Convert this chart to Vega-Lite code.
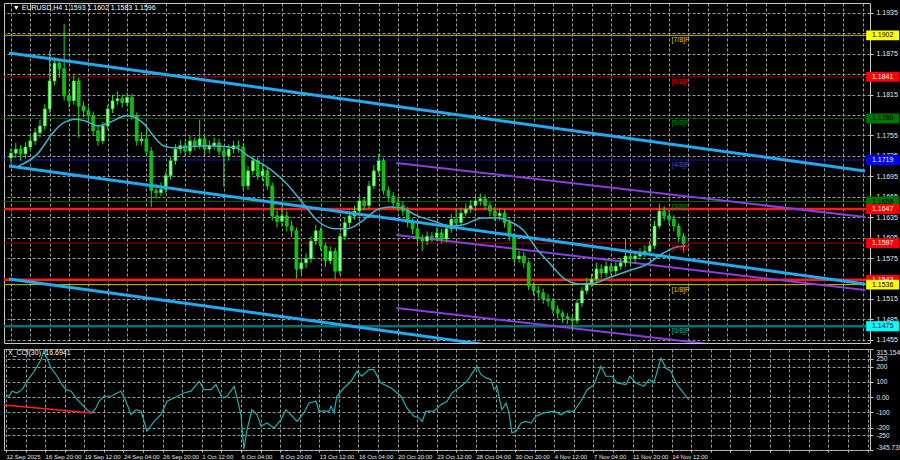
{
"$schema":"https://vega.github.io/schema/vega-lite/v6.json",
"background":"#000000",
"padding":{"left":0,"top":2,"right":0,"bottom":0},
"spacing":4,
"datasets":{
"candles":[
{"i":0,"o":1.1722,"h":1.1736,"l":1.1714,"c":1.1729},
{"i":2,"o":1.1729,"h":1.1744,"l":1.1722,"c":1.1735},
{"i":4,"o":1.1735,"h":1.1741,"l":1.1718,"c":1.1728},
{"i":6,"o":1.1728,"h":1.1745,"l":1.1721,"c":1.1738},
{"i":8,"o":1.1738,"h":1.1755,"l":1.1732,"c":1.1747},
{"i":10,"o":1.1747,"h":1.1766,"l":1.1741,"c":1.1759},
{"i":12,"o":1.1759,"h":1.1778,"l":1.1752,"c":1.1769},
{"i":14,"o":1.1769,"h":1.1801,"l":1.1763,"c":1.1794},
{"i":16,"o":1.1794,"h":1.1879,"l":1.1788,"c":1.1835},
{"i":18,"o":1.1835,"h":1.1870,"l":1.1829,"c":1.1861},
{"i":20,"o":1.1861,"h":1.1866,"l":1.1840,"c":1.1853},
{"i":22,"o":1.1853,"h":1.1919,"l":1.1806,"c":1.1813},
{"i":24,"o":1.1813,"h":1.1822,"l":1.1796,"c":1.1806},
{"i":26,"o":1.1806,"h":1.1843,"l":1.1800,"c":1.1835},
{"i":28,"o":1.1835,"h":1.1840,"l":1.1752,"c":1.1798},
{"i":30,"o":1.1798,"h":1.1805,"l":1.1782,"c":1.1791},
{"i":32,"o":1.1791,"h":1.1797,"l":1.1775,"c":1.1784},
{"i":34,"o":1.1784,"h":1.1790,"l":1.1754,"c":1.1762},
{"i":36,"o":1.1762,"h":1.1770,"l":1.1740,"c":1.1747},
{"i":38,"o":1.1747,"h":1.1775,"l":1.1742,"c":1.1769},
{"i":40,"o":1.1769,"h":1.1800,"l":1.1763,"c":1.1794},
{"i":42,"o":1.1794,"h":1.1815,"l":1.1788,"c":1.1806},
{"i":44,"o":1.1806,"h":1.1820,"l":1.1800,"c":1.1809},
{"i":46,"o":1.1809,"h":1.1815,"l":1.1796,"c":1.1803},
{"i":48,"o":1.1803,"h":1.1818,"l":1.1798,"c":1.1811},
{"i":50,"o":1.1811,"h":1.1816,"l":1.1778,"c":1.1784},
{"i":52,"o":1.1784,"h":1.1789,"l":1.1740,"c":1.1747},
{"i":54,"o":1.1747,"h":1.1760,"l":1.1741,"c":1.1750},
{"i":56,"o":1.1750,"h":1.1764,"l":1.1726,"c":1.1732},
{"i":58,"o":1.1732,"h":1.1738,"l":1.1650,"c":1.1674},
{"i":60,"o":1.1674,"h":1.1684,"l":1.1662,"c":1.1671},
{"i":62,"o":1.1671,"h":1.1686,"l":1.1666,"c":1.1676},
{"i":64,"o":1.1676,"h":1.1702,"l":1.1670,"c":1.1696},
{"i":66,"o":1.1696,"h":1.1724,"l":1.1690,"c":1.1718},
{"i":68,"o":1.1718,"h":1.1742,"l":1.1712,"c":1.1735},
{"i":70,"o":1.1735,"h":1.1748,"l":1.1728,"c":1.1740},
{"i":72,"o":1.1740,"h":1.1746,"l":1.1725,"c":1.1732},
{"i":74,"o":1.1732,"h":1.1754,"l":1.1726,"c":1.1747},
{"i":76,"o":1.1747,"h":1.1752,"l":1.1733,"c":1.1740},
{"i":78,"o":1.1740,"h":1.1778,"l":1.1735,"c":1.1750},
{"i":80,"o":1.1750,"h":1.1756,"l":1.1728,"c":1.1735},
{"i":82,"o":1.1735,"h":1.1748,"l":1.1729,"c":1.1740},
{"i":84,"o":1.1740,"h":1.1752,"l":1.1734,"c":1.1744},
{"i":86,"o":1.1744,"h":1.1750,"l":1.1726,"c":1.1732},
{"i":88,"o":1.1732,"h":1.1738,"l":1.1680,"c":1.1725},
{"i":90,"o":1.1725,"h":1.1742,"l":1.1718,"c":1.1735},
{"i":92,"o":1.1735,"h":1.1747,"l":1.1729,"c":1.1740},
{"i":94,"o":1.1740,"h":1.1748,"l":1.1730,"c":1.1738},
{"i":96,"o":1.1738,"h":1.1744,"l":1.1674,"c":1.1681},
{"i":98,"o":1.1681,"h":1.1710,"l":1.1675,"c":1.1703},
{"i":100,"o":1.1703,"h":1.1725,"l":1.1697,"c":1.1718},
{"i":102,"o":1.1718,"h":1.1723,"l":1.1690,"c":1.1696},
{"i":104,"o":1.1696,"h":1.1712,"l":1.1688,"c":1.1703},
{"i":106,"o":1.1703,"h":1.1708,"l":1.1675,"c":1.1681},
{"i":108,"o":1.1681,"h":1.1686,"l":1.1630,"c":1.1637},
{"i":110,"o":1.1637,"h":1.1645,"l":1.1620,"c":1.1629},
{"i":112,"o":1.1629,"h":1.1652,"l":1.1622,"c":1.1637},
{"i":114,"o":1.1637,"h":1.1644,"l":1.1614,"c":1.1622},
{"i":116,"o":1.1622,"h":1.1630,"l":1.1606,"c":1.1615},
{"i":118,"o":1.1615,"h":1.1620,"l":1.1545,"c":1.1559},
{"i":120,"o":1.1559,"h":1.1576,"l":1.1552,"c":1.1568},
{"i":122,"o":1.1568,"h":1.1582,"l":1.1560,"c":1.1574},
{"i":124,"o":1.1574,"h":1.1607,"l":1.1568,"c":1.1600},
{"i":126,"o":1.1600,"h":1.1624,"l":1.1594,"c":1.1615},
{"i":128,"o":1.1615,"h":1.1620,"l":1.1586,"c":1.1593},
{"i":130,"o":1.1593,"h":1.1598,"l":1.1562,"c":1.1571},
{"i":132,"o":1.1571,"h":1.1592,"l":1.1566,"c":1.1585},
{"i":134,"o":1.1585,"h":1.1590,"l":1.1544,"c":1.1556},
{"i":136,"o":1.1556,"h":1.1612,"l":1.1550,"c":1.1607},
{"i":138,"o":1.1607,"h":1.1634,"l":1.1601,"c":1.1627},
{"i":140,"o":1.1627,"h":1.1644,"l":1.1620,"c":1.1637},
{"i":142,"o":1.1637,"h":1.1652,"l":1.1631,"c":1.1644},
{"i":144,"o":1.1644,"h":1.1666,"l":1.1638,"c":1.1659},
{"i":146,"o":1.1659,"h":1.1664,"l":1.1645,"c":1.1652},
{"i":148,"o":1.1652,"h":1.1688,"l":1.1647,"c":1.1681},
{"i":150,"o":1.1681,"h":1.1712,"l":1.1676,"c":1.1703},
{"i":152,"o":1.1703,"h":1.1728,"l":1.1698,"c":1.1718},
{"i":154,"o":1.1718,"h":1.1722,"l":1.1668,"c":1.1674},
{"i":156,"o":1.1674,"h":1.1680,"l":1.1658,"c":1.1666},
{"i":158,"o":1.1666,"h":1.1672,"l":1.1648,"c":1.1656},
{"i":160,"o":1.1656,"h":1.1663,"l":1.1644,"c":1.1652},
{"i":162,"o":1.1652,"h":1.1658,"l":1.1637,"c":1.1644},
{"i":164,"o":1.1644,"h":1.1650,"l":1.1620,"c":1.1627},
{"i":166,"o":1.1627,"h":1.1633,"l":1.1610,"c":1.1618},
{"i":168,"o":1.1618,"h":1.1624,"l":1.1596,"c":1.1603},
{"i":170,"o":1.1603,"h":1.1610,"l":1.1585,"c":1.1600},
{"i":172,"o":1.1600,"h":1.1614,"l":1.1594,"c":1.1607},
{"i":174,"o":1.1607,"h":1.1613,"l":1.1598,"c":1.1605},
{"i":176,"o":1.1605,"h":1.1620,"l":1.1600,"c":1.1612},
{"i":178,"o":1.1612,"h":1.1618,"l":1.1597,"c":1.1603},
{"i":180,"o":1.1603,"h":1.1625,"l":1.1598,"c":1.1618},
{"i":182,"o":1.1618,"h":1.1640,"l":1.1612,"c":1.1632},
{"i":184,"o":1.1632,"h":1.1648,"l":1.1620,"c":1.1627},
{"i":186,"o":1.1627,"h":1.1649,"l":1.1622,"c":1.1641},
{"i":188,"o":1.1641,"h":1.1655,"l":1.1636,"c":1.1647},
{"i":190,"o":1.1647,"h":1.1660,"l":1.1642,"c":1.1652},
{"i":192,"o":1.1652,"h":1.1668,"l":1.1646,"c":1.1659},
{"i":194,"o":1.1659,"h":1.1670,"l":1.1652,"c":1.1662},
{"i":196,"o":1.1662,"h":1.1668,"l":1.1646,"c":1.1652},
{"i":198,"o":1.1652,"h":1.1657,"l":1.1636,"c":1.1644},
{"i":200,"o":1.1644,"h":1.1650,"l":1.1630,"c":1.1637},
{"i":202,"o":1.1637,"h":1.1648,"l":1.1630,"c":1.1641},
{"i":204,"o":1.1641,"h":1.1646,"l":1.1620,"c":1.1627},
{"i":206,"o":1.1627,"h":1.1632,"l":1.1600,"c":1.1607},
{"i":208,"o":1.1607,"h":1.1612,"l":1.1567,"c":1.1574},
{"i":210,"o":1.1574,"h":1.1586,"l":1.1568,"c":1.1578},
{"i":212,"o":1.1578,"h":1.1584,"l":1.1560,"c":1.1568},
{"i":214,"o":1.1568,"h":1.1572,"l":1.1528,"c":1.1534},
{"i":216,"o":1.1534,"h":1.1540,"l":1.1520,"c":1.1527},
{"i":218,"o":1.1527,"h":1.1534,"l":1.1516,"c":1.1524},
{"i":220,"o":1.1524,"h":1.1530,"l":1.1508,"c":1.1515},
{"i":222,"o":1.1515,"h":1.1522,"l":1.1504,"c":1.1512},
{"i":224,"o":1.1512,"h":1.1516,"l":1.1493,"c":1.1500},
{"i":226,"o":1.1500,"h":1.1506,"l":1.1486,"c":1.1494},
{"i":228,"o":1.1494,"h":1.1498,"l":1.1480,"c":1.1489},
{"i":230,"o":1.1489,"h":1.1494,"l":1.1478,"c":1.1486},
{"i":232,"o":1.1486,"h":1.1492,"l":1.1472,"c":1.1483},
{"i":234,"o":1.1483,"h":1.1514,"l":1.1478,"c":1.1509},
{"i":236,"o":1.1509,"h":1.1533,"l":1.1503,"c":1.1527},
{"i":238,"o":1.1527,"h":1.1546,"l":1.1522,"c":1.1538},
{"i":240,"o":1.1538,"h":1.1552,"l":1.1533,"c":1.1544},
{"i":242,"o":1.1544,"h":1.1568,"l":1.1538,"c":1.1559},
{"i":244,"o":1.1559,"h":1.1566,"l":1.1546,"c":1.1553},
{"i":246,"o":1.1553,"h":1.1570,"l":1.1547,"c":1.1563},
{"i":248,"o":1.1563,"h":1.1568,"l":1.1550,"c":1.1556},
{"i":250,"o":1.1556,"h":1.1569,"l":1.1550,"c":1.1563},
{"i":252,"o":1.1563,"h":1.1575,"l":1.1558,"c":1.1568},
{"i":254,"o":1.1568,"h":1.1604,"l":1.1562,"c":1.1578},
{"i":256,"o":1.1578,"h":1.1586,"l":1.1566,"c":1.1574},
{"i":258,"o":1.1574,"h":1.1585,"l":1.1568,"c":1.1578},
{"i":260,"o":1.1578,"h":1.1590,"l":1.1573,"c":1.1583},
{"i":262,"o":1.1583,"h":1.1594,"l":1.1576,"c":1.1585},
{"i":264,"o":1.1585,"h":1.1600,"l":1.1578,"c":1.1593},
{"i":266,"o":1.1593,"h":1.1630,"l":1.1588,"c":1.1622},
{"i":268,"o":1.1622,"h":1.1655,"l":1.1618,"c":1.1644},
{"i":270,"o":1.1644,"h":1.1651,"l":1.1630,"c":1.1637},
{"i":272,"o":1.1637,"h":1.1645,"l":1.1625,"c":1.1632},
{"i":274,"o":1.1632,"h":1.1638,"l":1.1614,"c":1.1622},
{"i":276,"o":1.1622,"h":1.1626,"l":1.1599,"c":1.1607},
{"i":278,"o":1.1607,"h":1.1612,"l":1.1583,"c":1.1596}
],
"ma":[
{"i":3,"m":1.1710},{"i":11,"m":1.1728},{"i":17,"m":1.1757},{"i":21,"m":1.1772},{"i":27,"m":1.1779},{"i":31,"m":1.1776},{"i":36,"m":1.1769},{"i":40,"m":1.1773},{"i":48,"m":1.1784},{"i":55,"m":1.1772},{"i":59,"m":1.1754},{"i":63,"m":1.1740},{"i":67,"m":1.1737},{"i":81,"m":1.1740},{"i":93,"m":1.1737},{"i":98,"m":1.1725},{"i":107,"m":1.1706},{"i":114,"m":1.1684},{"i":121,"m":1.1654},{"i":127,"m":1.1629},{"i":134,"m":1.1618},{"i":139,"m":1.1618},{"i":145,"m":1.1629},{"i":152,"m":1.1647},{"i":157,"m":1.1650},{"i":161,"m":1.1649},{"i":168,"m":1.1637},{"i":175,"m":1.1629},{"i":182,"m":1.1622},{"i":187,"m":1.1624},{"i":195,"m":1.1634},{"i":201,"m":1.1634},{"i":206,"m":1.1629},{"i":212,"m":1.1615},{"i":217,"m":1.1590},{"i":223,"m":1.1566},{"i":229,"m":1.1544},{"i":235,"m":1.1537},{"i":241,"m":1.1538},{"i":247,"m":1.1546},{"i":255,"m":1.1556},{"i":263,"m":1.1566},{"i":269,"m":1.1581},{"i":274,"m":1.1590},{"i":279,"m":1.1593}
],
"levels":[
{"lvl":"7/8","p":1.1902,"lab":"[7/8]P"},
{"lvl":"6/8","p":1.1841,"lab":"[6/8]P"},
{"lvl":"5/8","p":1.1780,"lab":"[5/8]P"},
{"lvl":"4/8","p":1.1719,"lab":"[4/8]P"},
{"lvl":"3/8","p":1.1658,"lab":"[3/8]P"},
{"lvl":"R1","p":1.1647,"lab":""},
{"lvl":"2/8","p":1.1597,"lab":"[2/8]P"},
{"lvl":"R2","p":1.1543,"lab":""},
{"lvl":"1/8","p":1.1536,"lab":"[1/8]P"},
{"lvl":"0/8","p":1.1475,"lab":"[0/8]P"}
],
"chan":[
{"ln":"a","i":-0.8,"p":1.18761},{"ln":"a","i":353,"p":1.17028},
{"ln":"b","i":-0.8,"p":1.17102},{"ln":"b","i":353,"p":1.15369},
{"ln":"c","i":-0.8,"p":1.15443},{"ln":"c","i":353,"p":1.13710}
],
"purp":[
{"ln":"d","i":159.3,"p":1.17146},{"ln":"d","i":353,"p":1.16353},
{"ln":"e","i":159.3,"p":1.16089},{"ln":"e","i":353,"p":1.15281},
{"ln":"f","i":159.3,"p":1.15017},{"ln":"f","i":353,"p":1.14224}
],
"cci":[
{"i":0,"v":16},{"i":1.2,"v":6},{"i":2.5,"v":39},{"i":4.5,"v":27},{"i":6.6,"v":49},{"i":8.6,"v":104},{"i":11.5,"v":169},{"i":14.3,"v":245},{"i":15.5,"v":305},{"i":16.4,"v":268},{"i":18.4,"v":191},{"i":20.9,"v":137},{"i":22.9,"v":82},{"i":24.5,"v":49},{"i":26.6,"v":39},{"i":28.6,"v":-5},{"i":31.1,"v":-49},{"i":33.1,"v":-82},{"i":35.1,"v":-103},{"i":36.8,"v":-71},{"i":38,"v":-27},{"i":40,"v":6},{"i":42.9,"v":6},{"i":45.4,"v":27},{"i":47,"v":39},{"i":49,"v":-27},{"i":51.1,"v":-115},{"i":53.1,"v":-82},{"i":55.2,"v":-92},{"i":57.6,"v":-223},{"i":60.5,"v":-158},{"i":63.3,"v":-115},{"i":65.8,"v":-27},{"i":68.6,"v":-5},{"i":72.7,"v":27},{"i":75.6,"v":39},{"i":78.9,"v":104},{"i":80.9,"v":49},{"i":83.8,"v":49},{"i":85.8,"v":82},{"i":88.3,"v":-5},{"i":90.3,"v":6},{"i":93.2,"v":71},{"i":94.4,"v":-5},{"i":96,"v":-115},{"i":97.2,"v":-340},{"i":98.5,"v":-213},{"i":100.5,"v":-82},{"i":102.6,"v":-115},{"i":104.2,"v":-190},{"i":106.6,"v":-169},{"i":109.5,"v":-202},{"i":112.4,"v":-147},{"i":114.4,"v":-82},{"i":116.4,"v":-115},{"i":118.9,"v":-158},{"i":121.7,"v":-103},{"i":123.8,"v":-38},{"i":126.7,"v":-27},{"i":127.9,"v":-92},{"i":132,"v":-92},{"i":132.8,"v":-60},{"i":134,"v":-103},{"i":135.2,"v":6},{"i":138.1,"v":60},{"i":141,"v":104},{"i":143.4,"v":169},{"i":145.4,"v":137},{"i":148.3,"v":180},{"i":150.3,"v":180},{"i":153.2,"v":93},{"i":157.3,"v":60},{"i":161.4,"v":6},{"i":163.8,"v":-71},{"i":166.7,"v":-125},{"i":168.7,"v":-136},{"i":170,"v":-158},{"i":171.6,"v":-92},{"i":174.9,"v":-92},{"i":177.7,"v":-49},{"i":180.2,"v":-27},{"i":182.2,"v":27},{"i":185.9,"v":71},{"i":188.3,"v":104},{"i":192.4,"v":202},{"i":194.1,"v":147},{"i":196.1,"v":126},{"i":198.1,"v":115},{"i":199.4,"v":49},{"i":200.6,"v":71},{"i":201.4,"v":6},{"i":202.6,"v":-82},{"i":204.3,"v":-38},{"i":205.5,"v":-103},{"i":206.7,"v":-234},{"i":208.4,"v":-223},{"i":210.4,"v":-169},{"i":212.4,"v":-158},{"i":214.5,"v":-169},{"i":216.5,"v":-125},{"i":219.8,"v":-103},{"i":223.9,"v":-92},{"i":226.7,"v":-115},{"i":229.2,"v":-92},{"i":232,"v":-92},{"i":234.9,"v":-27},{"i":237.4,"v":49},{"i":240.2,"v":82},{"i":243.1,"v":202},{"i":245.1,"v":137},{"i":247.6,"v":137},{"i":249.6,"v":93},{"i":253.3,"v":82},{"i":254.9,"v":137},{"i":257.4,"v":93},{"i":260.6,"v":71},{"i":262.7,"v":115},{"i":264.7,"v":93},{"i":267.6,"v":256},{"i":269.6,"v":191},{"i":271.7,"v":169},{"i":273.7,"v":93},{"i":276.2,"v":39},{"i":279,"v":-17}
],
"trend":[{"i":-0.8,"v":-51},{"i":35.1,"v":-103}]
},
"vconcat":[
{
"width":866,"height":340,
"resolve":{"scale":{"color":"independent"}},
"layer":[
{"data":{"name":"candles"},"mark":{"type":"rule","opacity":0},
 "encoding":{
  "x":{"field":"i","type":"quantitative","title":null,"scale":{"domain":[-0.8,353],"nice":false,"zero":false},
   "axis":{"orient":"bottom","tickCount":1000,"values":[0,8,16,24,32,40,48,56,64,72,80,88,96,104,112,120,128,136,144,152,160,168,176,184,192,200,208,216,224,232,240,248,256,264,272,280,288,296,304,312,320,328,336,344,352],"labels":false,"ticks":false,"domain":false,"grid":true,"minExtent":0,"maxExtent":0,"offset":0}},
  "y":{"field":"c","type":"quantitative","title":null,"scale":{"domain":[1.14503,1.19495],"nice":false,"zero":false},
   "axis":{"orient":"right","tickCount":1000,"values":[1.1455,1.1485,1.1515,1.1545,1.1575,1.1605,1.1635,1.1665,1.1695,1.1725,1.1755,1.1785,1.1815,1.1845,1.1875,1.1905,1.1935],"format":".4f","labelExpr":"(abs(datum.value-1.1545)<0.0001||abs(datum.value-1.1785)<0.0001||abs(datum.value-1.1845)<0.0001||abs(datum.value-1.1905)<0.0001)?'':datum.label","grid":true,"ticks":true,"tickSize":3,"labelPadding":3,"domain":false}}
 }},
{"data":{"name":"levels"},"transform":[{"filter":"datum.lvl!='R1'&&datum.lvl!='R2'&&datum.lvl!='0/8'"}],
 "mark":{"type":"rule","strokeWidth":1},
 "encoding":{"y":{"field":"p","type":"quantitative","title":null},
  "color":{"field":"lvl","type":"nominal","legend":null,"scale":{"domain":["7/8","6/8","5/8","4/8","3/8","R1","2/8","R2","1/8","0/8"],"range":["#b8b800","#a00000","#006400","#1a1ab0","#006800","#ff1a1a","#a80000","#ff1a1a","#c8c800","#00a8b0"]}}}},
{"data":{"name":"levels"},"transform":[{"filter":"datum.lvl=='R1'||datum.lvl=='R2'"}],
 "mark":{"type":"rule","strokeWidth":2.5,"color":"#ff1a1a"},
 "encoding":{"y":{"field":"p","type":"quantitative","title":null}}},
{"data":{"name":"levels"},"transform":[{"filter":"datum.lvl=='0/8'"}],
 "mark":{"type":"rule","strokeWidth":2.5,"color":"#006f70"},
 "encoding":{"y":{"field":"p","type":"quantitative","title":null}}},
{"data":{"name":"purp"},"mark":{"type":"line","color":"#8a3ee0","strokeWidth":2,"clip":true},
 "encoding":{"x":{"field":"i","type":"quantitative","title":null},"y":{"field":"p","type":"quantitative","title":null},"detail":{"field":"ln"}}},
{"data":{"name":"candles"},"mark":{"type":"rule","strokeWidth":1},
 "encoding":{"x":{"field":"i","type":"quantitative","title":null},"y":{"field":"l","type":"quantitative","title":null},"y2":{"field":"h"},
  "color":{"value":"#1fe01f"}}},
{"data":{"name":"candles"},"mark":{"type":"bar","size":3,"strokeWidth":0.6,"stroke":"#22dd22"},
 "encoding":{"x":{"field":"i","type":"quantitative","title":null},"y":{"field":"o","type":"quantitative","title":null},"y2":{"field":"c"},
  "fill":{"condition":{"test":"datum.c>=datum.o","value":"#8cff8c"},"value":"#14b814"}}},
{"data":{"name":"chan"},"mark":{"type":"line","color":"#22aaf0","strokeWidth":3,"clip":true},
 "encoding":{"x":{"field":"i","type":"quantitative","title":null},"y":{"field":"p","type":"quantitative","title":null},"detail":{"field":"ln"}}},
{"data":{"name":"ma"},"mark":{"type":"line","color":"#3db6cc","strokeWidth":1.5,"interpolate":"monotone"},
 "encoding":{"x":{"field":"i","type":"quantitative","title":null},"y":{"field":"m","type":"quantitative","title":null}}},
{"data":{"name":"levels"},"mark":{"type":"text","align":"left","baseline":"top","dy":1,"fontSize":7,"font":"Liberation Sans"},
 "encoding":{"x":{"datum":273},"y":{"field":"p","type":"quantitative","title":null},"text":{"field":"lab"},
  "color":{"field":"lvl","type":"nominal","legend":null,"scale":{"domain":["7/8","6/8","5/8","4/8","3/8","R1","2/8","R2","1/8","0/8"],"range":["#d8d800","#e00000","#009000","#3050ff","#009000","#ff2020","#d00000","#ff2020","#d8d800","#10b8c8"]}}}},
{"data":{"name":"levels"},"mark":{"type":"point","filled":true,"opacity":1,"shape":"M-1,-0.3H1V0.3H-1Z","size":1089,"clip":false},
 "encoding":{"x":{"datum":360.3},"y":{"field":"p","type":"quantitative","title":null},
  "fill":{"field":"lvl","type":"nominal","legend":null,"scale":{"domain":["7/8","6/8","5/8","4/8","3/8","R1","2/8","R2","1/8","0/8"],"range":["#ffff00","#ff0000","#007400","#0000ff","#007400","#ff0000","#ff0000","#ff0000","#ffff00","#00ffff"]}}}},
{"data":{"name":"levels"},"mark":{"type":"text","align":"center","baseline":"middle","fontSize":7,"font":"Liberation Sans","clip":false},
 "encoding":{"x":{"datum":360.3},"y":{"field":"p","type":"quantitative","title":null},"text":{"field":"p","format":".4f"},
  "color":{"condition":{"test":"datum.lvl=='4/8'||datum.lvl=='R1'||datum.lvl=='R2'||datum.lvl=='2/8'||datum.lvl=='6/8'","value":"#ffffff"},"value":"#000000"}}},
{"data":{"values":[{"t":"\u25bc EURUSD,H4  1.1593 1.1602 1.1583 1.1596"}]},"mark":{"type":"text","align":"left","baseline":"middle","fontSize":7,"font":"Liberation Sans","color":"#ffffff"},
 "encoding":{"x":{"datum":0.8},"y":{"datum":1.19425},"text":{"field":"t"}}}
]
},
{
"width":866,"height":101,
"layer":[
{"data":{"name":"cci"},"mark":{"type":"line","color":"#1fb0b0","strokeWidth":1.2,"clip":true},
 "encoding":{
  "x":{"field":"i","type":"quantitative","title":null,"scale":{"domain":[-0.8,353],"nice":false,"zero":false},
   "axis":{"orient":"bottom","tickCount":1000,"values":[0,8,16,24,32,40,48,56,64,72,80,88,96,104,112,120,128,136,144,152,160,168,176,184,192,200,208,216,224,232,240,248,256,264,272,280,288,296,304,312,320,328,336,344,352],
    "labelExpr":"(datum.value%16==0&&datum.value<=272)?['12 Sep 2025','16 Sep 20:00','19 Sep 12:00','24 Sep 04:00','26 Sep 20:00','1 Oct 12:00','6 Oct 04:00','8 Oct 20:00','13 Oct 12:00','16 Oct 04:00','20 Oct 20:00','23 Oct 12:00','28 Oct 04:00','30 Oct 20:00','4 Nov 12:00','7 Nov 04:00','11 Nov 20:00','14 Nov 12:00'][datum.value/16]:''",
    "labelAlign":"left","labelBaseline":"top","labelPadding":1,"labelFontSize":6,"tickSize":2,"grid":true,"domain":false,"labelOverlap":false,"labelFlush":false,"labelBound":false}},
  "y":{"field":"v","type":"quantitative","title":null,"scale":{"domain":[-345.739,315.1542],"nice":false,"zero":false},
   "axis":{"orient":"right","tickCount":1000,"values":[315.1542,250,200,100,0,-100,-200,-250,-345.739],"labelExpr":"datum.value==0?'0.00':''+datum.value","grid":true,"tickSize":3,"labelPadding":3,"labelFontSize":6.5,"domain":false,"labelOverlap":false,"labelFlush":true}}
 }},
{"data":{"name":"trend"},"mark":{"type":"line","color":"#ff2020","strokeWidth":1.5},
 "encoding":{"x":{"field":"i","type":"quantitative","title":null},"y":{"field":"v","type":"quantitative","title":null}}},
{"data":{"values":[{"t":"X_CCI(30) -16.6941"}]},"mark":{"type":"text","align":"left","baseline":"middle","fontSize":7,"font":"Liberation Sans","color":"#ffffff"},
 "encoding":{"x":{"datum":0.8},"y":{"datum":290},"text":{"field":"t"}}}
]
}
],
"config":{
 "view":{"stroke":"#c8c8c8","strokeWidth":1},
 "axis":{"gridColor":"#9a9a9a","gridDash":[3,2],"gridWidth":1,"gridOpacity":1,"labelColor":"#e6e6e6","labelFont":"Liberation Sans","labelFontSize":7,"tickColor":"#c8c8c8","title":null,"labelOverlap":false}
}
}
